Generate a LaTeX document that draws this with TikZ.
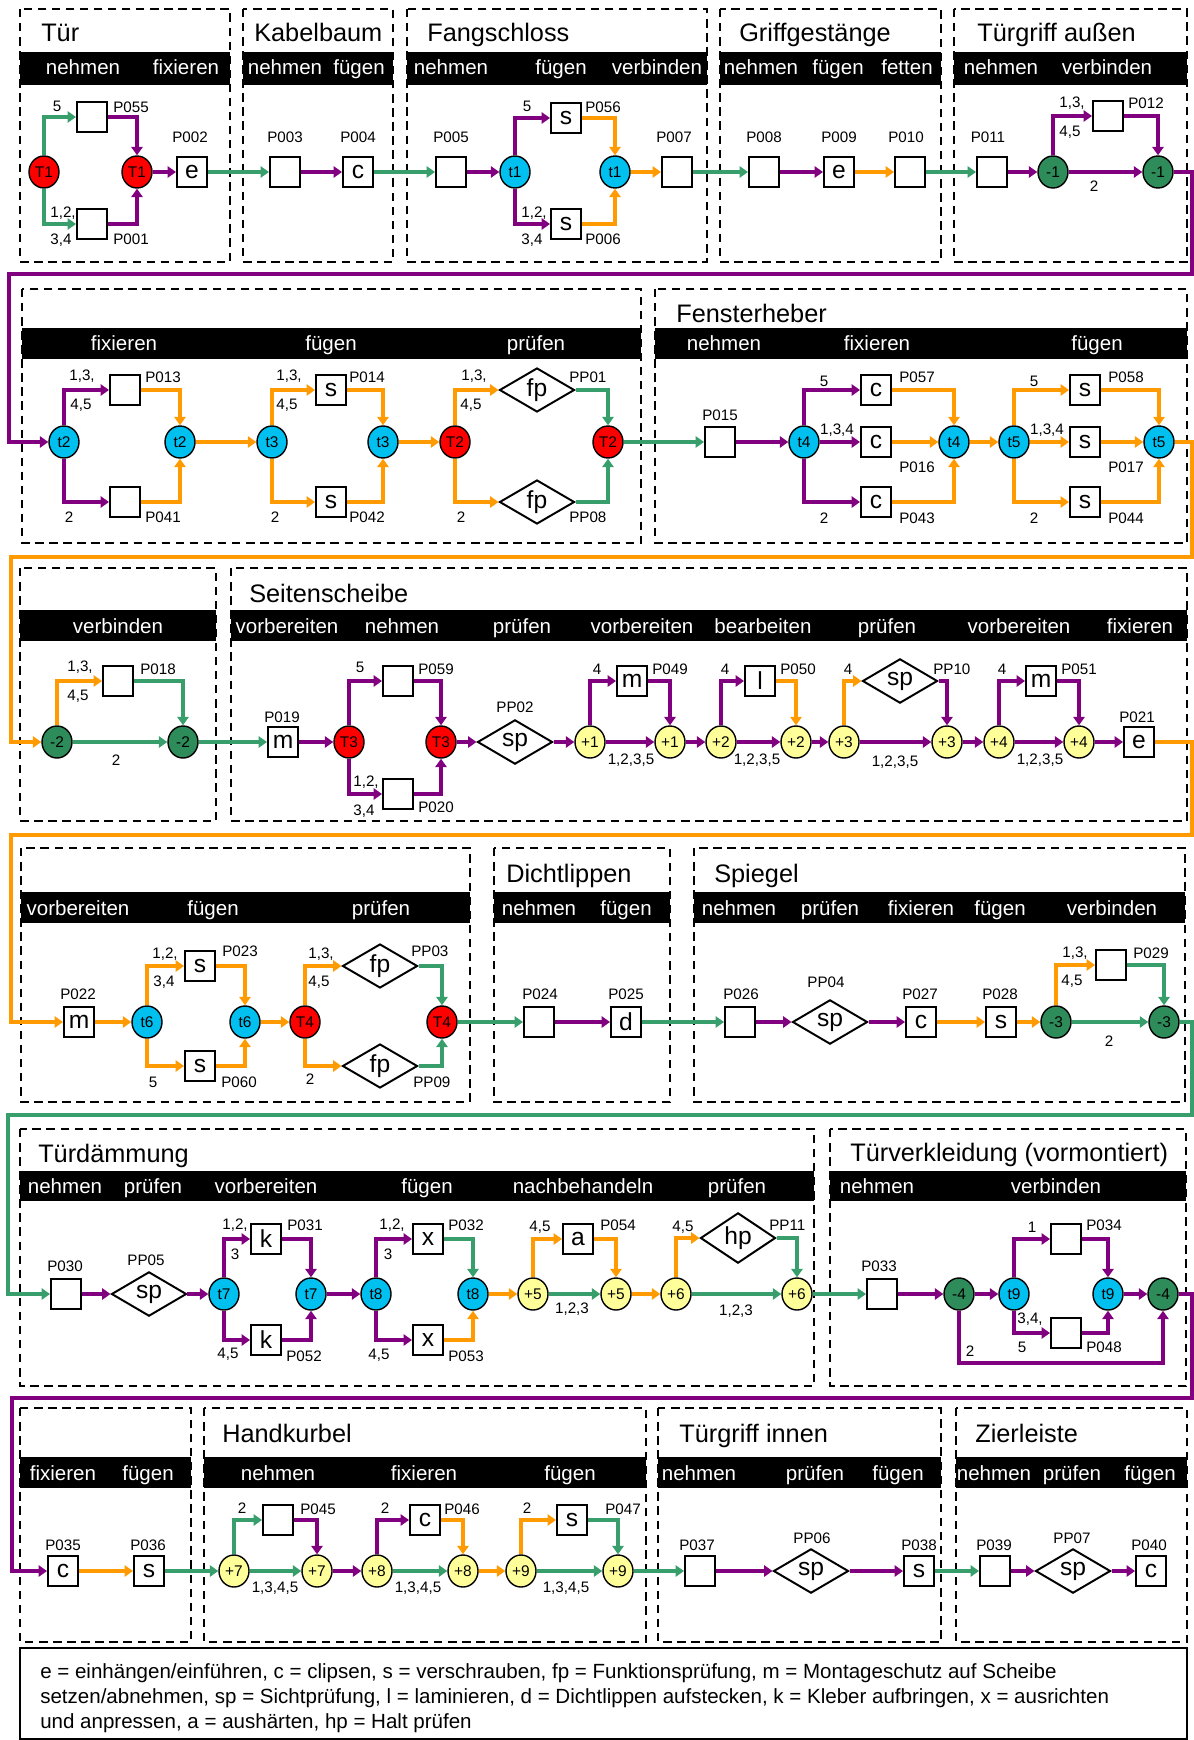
\documentclass[tikz,border=0pt]{standalone}
\usepackage{fontspec}
\setmainfont{Liberation Sans}
\usetikzlibrary{shapes.geometric,arrows.meta}
\definecolor{grn}{RGB}{56,158,108}
\definecolor{pur}{RGB}{128,0,128}
\definecolor{org}{RGB}{255,155,0}
\definecolor{tred}{RGB}{255,0,0}
\definecolor{tcyan}{RGB}{0,192,240}
\definecolor{tgreen}{RGB}{46,140,90}
\definecolor{tyel}{RGB}{255,255,153}

\begin{document}
\begin{tikzpicture}[x=0.025cm,y=-0.025cm,
    grp/.style={draw,line width=1.2pt,dash pattern=on 6pt off 4pt},
    ttl/.style={anchor=base west,inner sep=0,font=\fontsize{18}{20}\selectfont},
    hd/.style={anchor=base,inner sep=0,text=white,font=\fontsize{14.6}{16}\selectfont},
    pl/.style={draw,line width=1.4pt,fill=white,minimum size=0.75cm,inner sep=0,font=\fontsize{17.5}{18}\selectfont},
    pp/.style={draw,diamond,line width=1.4pt,fill=white,minimum width=1.875cm,minimum height=1.1cm,inner sep=0,font=\fontsize{17.5}{18}\selectfont},
    tr/.style={draw,ellipse,line width=1pt,fill=#1,minimum width=0.75cm,minimum height=0.8cm,inner sep=0,font=\fontsize{11}{12}\selectfont},
    lab/.style={inner sep=0,font=\fontsize{10.8}{12}\selectfont},
    lw/.style={lab,anchor=west},
    gr/.style={draw=grn,line width=2.6pt,-{Triangle[length=6pt,width=8pt]}},
    pu/.style={gr,draw=pur},
    og/.style={gr,draw=org}]
  \useasboundingbox (0,0) rectangle (1194,1740);

  % groups
  \foreach \a/\b/\c/\d in {20/9/230/262,243/9/393/262,407/9/707/262,720/9/941/262,954/9/1187/262,
      22/289/641/543,655/289/1187/543,20/568/216/821,231/568/1187/821,
      21/848/470/1102,494/848/670/1102,694/848/1185/1102,20/1129/814/1386,830/1129/1186/1386,
      20/1408/191/1642,204/1408/646/1642,658/1408/941/1642,956/1408/1187/1642}
    \draw[grp] (\a,\b) rectangle (\c,\d);
  \foreach \a/\b/\c/\d in {20/52/230/85,243/52/393/85,407/52/707/85,720/52/941/85,954/52/1187/85,
      22/328/641/359,655/328/1187/359,20/610/216/641,231/610/1187/641,
      21/892/470/923,494/892/670/923,694/892/1185/923,20/1171/814/1201,830/1171/1186/1201,
      20/1457/191/1488,204/1457/646/1488,658/1457/941/1488,956/1457/1187/1488}
    \fill (\a,\b) rectangle (\c,\d);

  \node[ttl] (ttl1) at (41,42) {Tür};
  \node[ttl] (ttl2) at (254,42) {Kabelbaum};
  \node[ttl] (ttl3) at (427,42) {Fangschloss};
  \node[ttl] (ttl4) at (739,42) {Griffgestänge};
  \node[ttl] (ttl5) at (977,42) {Türgriff außen};
  \node[ttl] (ttl6) at (676,323) {Fensterheber};
  \node[ttl] (ttl7) at (249,602) {Seitenscheibe};
  \node[ttl] (ttl8) at (506,882) {Dichtlippen};
  \node[ttl] (ttl9) at (714,882) {Spiegel};
  \node[ttl] (ttl10) at (38,1162) {Türdämmung};
  \node[ttl] (ttl11) at (850,1161) {Türverkleidung (vormontiert)};
  \node[ttl] (ttl12) at (222,1442) {Handkurbel};
  \node[ttl] (ttl13) at (679,1442) {Türgriff innen};
  \node[ttl] (ttl14) at (975,1442) {Zierleiste};

  \foreach \x/\t in {83/nehmen,186/fixieren,285/nehmen,359/fügen,451/nehmen,561/fügen,657/verbinden,
      761/nehmen,838/fügen,907/fetten,1001/nehmen,1107/verbinden}
    \node[hd] (h1-\x) at (\x,75) {\t};
  \foreach \x/\t in {124/fixieren,331/fügen,536/prüfen,724/nehmen,877/fixieren,1097/fügen}
    \node[hd] (h2-\x) at (\x,351) {\t};
  \foreach \x/\t in {118/verbinden,287/vorbereiten,402/nehmen,522/prüfen,642/vorbereiten,
      763/bearbeiten,887/prüfen,1019/vorbereiten,1140/fixieren}
    \node[hd] (h3-\x) at (\x,633) {\t};
  \foreach \x/\t in {78/vorbereiten,213/fügen,381/prüfen,539/nehmen,626/fügen,739/nehmen,
      830/prüfen,921/fixieren,1000/fügen,1112/verbinden}
    \node[hd] (h4-\x) at (\x,915) {\t};
  \foreach \x/\t in {65/nehmen,153/prüfen,266/vorbereiten,427/fügen,583/nachbehandeln,737/prüfen,
      877/nehmen,1056/verbinden}
    \node[hd] (h5-\x) at (\x,1193) {\t};
  \foreach \x/\t in {63/fixieren,148/fügen,278/nehmen,424/fixieren,570/fügen,699/nehmen,815/prüfen,
      898/fügen,994/nehmen,1072/prüfen,1150/fügen}
    \node[hd] (h6-\x) at (\x,1480) {\t};

  % row 1
  \node[tr=tred] (T1a) at (44,172) {T1};
  \node[pl] (p055) at (92,117) {}; \node[lw] (p055t) at (113,107) {P055};
  \node[pl] (p001) at (92,224) {}; \node[lw] (p001t) at (113,239) {P001};
  \node[tr=tred] (T1b) at (137,172) {T1};
  \node[pl] (p002) at (192,172) {e}; \node[lab] (p002t) at (190,137) {P002};
  \node[pl] (p003) at (285,172) {}; \node[lab] (p003t) at (285,137) {P003};
  \node[pl] (p004) at (358,172) {c}; \node[lab] (p004t) at (358,137) {P004};
  \node[pl] (p005) at (451,172) {}; \node[lab] (p005t) at (451,137) {P005};
  \node[tr=tcyan] (t1a) at (515,172) {t1};
  \node[pl] (p056) at (566,118) {s}; \node[lw] (p056t) at (585,107) {P056};
  \node[pl] (p006) at (566,224) {s}; \node[lw] (p006t) at (585,239) {P006};
  \node[tr=tcyan] (t1b) at (615,172) {t1};
  \node[pl] (p007) at (677,172) {}; \node[lab] (p007t) at (674,137) {P007};
  \node[pl] (p008) at (764,172) {}; \node[lab] (p008t) at (764,137) {P008};
  \node[pl] (p009) at (839,172) {e}; \node[lab] (p009t) at (839,137) {P009};
  \node[pl] (p010) at (910,172) {}; \node[lab] (p010t) at (906,137) {P010};
  \node[pl] (p011) at (992,172) {}; \node[lab] (p011t) at (988,137) {P011};
  \node[tr=tgreen] (m1a) at (1053,172) {-1};
  \node[pl] (p012) at (1108,116) {}; \node[lw] (p012t) at (1128,103) {P012};
  \node[tr=tgreen] (m1b) at (1158,172) {-1};

  % row 2
  \node[tr=tcyan] (t2a) at (64,442) {t2};
  \node[pl] (p013) at (125,390) {}; \node[lw] (p013t) at (145,377) {P013};
  \node[pl] (p041) at (125,502) {}; \node[lw] (p041t) at (145,517) {P041};
  \node[tr=tcyan] (t2b) at (180,442) {t2};
  \node[tr=tcyan] (t3a) at (272,442) {t3};
  \node[pl] (p014) at (331,390) {s}; \node[lw] (p014t) at (349,377) {P014};
  \node[pl] (p042) at (331,502) {s}; \node[lw] (p042t) at (349,517) {P042};
  \node[tr=tcyan] (t3b) at (383,442) {t3};
  \node[tr=tred] (T2a) at (455,442) {T2};
  \node[pp] (pp01) at (537,390) {fp}; \node[lw] (pp01t) at (569,377) {PP01};
  \node[pp] (pp08) at (537,502) {fp}; \node[lw] (pp08t) at (569,517) {PP08};
  \node[tr=tred] (T2b) at (608,442) {T2};
  \node[pl] (p015) at (720,442) {}; \node[lab] (p015t) at (720,415) {P015};
  \node[tr=tcyan] (t4a) at (804,442) {t4};
  \node[pl] (p057) at (876,390) {c}; \node[lw] (p057t) at (899,377) {P057};
  \node[pl] (p016) at (876,442) {c}; \node[lw] (p016t) at (899,467) {P016};
  \node[pl] (p043) at (876,502) {c}; \node[lw] (p043t) at (899,518) {P043};
  \node[tr=tcyan] (t4b) at (954,442) {t4};
  \node[tr=tcyan] (t5a) at (1014,442) {t5};
  \node[pl] (p058) at (1085,390) {s}; \node[lw] (p058t) at (1108,377) {P058};
  \node[pl] (p017) at (1085,442) {s}; \node[lw] (p017t) at (1108,467) {P017};
  \node[pl] (p044) at (1085,502) {s}; \node[lw] (p044t) at (1108,518) {P044};
  \node[tr=tcyan] (t5b) at (1159,442) {t5};

  % row 3
  \node[tr=tgreen] (m2a) at (57,742) {-2};
  \node[pl] (p018) at (118,681) {}; \node[lw] (p018t) at (140,669) {P018};
  \node[tr=tgreen] (m2b) at (183,742) {-2};
  \node[pl] (p019) at (283,742) {m}; \node[lab] (p019t) at (282,717) {P019};
  \node[tr=tred] (T3a) at (349,742) {T3};
  \node[pl] (p059) at (398,681) {}; \node[lw] (p059t) at (418,669) {P059};
  \node[pl] (p020) at (398,794) {}; \node[lw] (p020t) at (418,807) {P020};
  \node[tr=tred] (T3b) at (441,742) {T3};
  \node[pp] (pp02) at (515,742) {sp}; \node[lab] (pp02t) at (515,707) {PP02};
  \node[tr=tyel] (p1a) at (590,742) {+1};
  \node[pl] (p049) at (632,681) {m}; \node[lw] (p049t) at (652,669) {P049};
  \node[tr=tyel] (p1b) at (670,742) {+1};
  \node[tr=tyel] (p2a) at (721,742) {+2};
  \node[pl] (p050) at (760,681) {l}; \node[lw] (p050t) at (780,669) {P050};
  \node[tr=tyel] (p2b) at (796,742) {+2};
  \node[tr=tyel] (p3a) at (844,742) {+3};
  \node[pp] (pp10) at (900,681) {sp}; \node[lw] (pp10t) at (933,669) {PP10};
  \node[tr=tyel] (p3b) at (947,742) {+3};
  \node[tr=tyel] (p4a) at (999,742) {+4};
  \node[pl] (p051) at (1041,681) {m}; \node[lw] (p051t) at (1061,669) {P051};
  \node[tr=tyel] (p4b) at (1079,742) {+4};
  \node[pl] (p021) at (1139,742) {e}; \node[lab] (p021t) at (1137,717) {P021};

  % row 4
  \node[pl] (p022) at (79,1022) {m}; \node[lab] (p022t) at (78,994) {P022};
  \node[tr=tcyan] (t6a) at (147,1022) {t6};
  \node[pl] (p023) at (200,966) {s}; \node[lw] (p023t) at (222,951) {P023};
  \node[pl] (p060) at (200,1066) {s}; \node[lw] (p060t) at (221,1082) {P060};
  \node[tr=tcyan] (t6b) at (245,1022) {t6};
  \node[tr=tred] (T4a) at (305,1022) {T4};
  \node[pp] (pp03) at (380,966) {fp}; \node[lw] (pp03t) at (411,951) {PP03};
  \node[pp] (pp09) at (380,1066) {fp}; \node[lw] (pp09t) at (413,1082) {PP09};
  \node[tr=tred] (T4b) at (442,1022) {T4};
  \node[pl] (p024) at (539,1022) {}; \node[lab] (p024t) at (540,994) {P024};
  \node[pl] (p025) at (626,1022) {d}; \node[lab] (p025t) at (626,994) {P025};
  \node[pl] (p026) at (740,1022) {}; \node[lab] (p026t) at (741,994) {P026};
  \node[pp] (pp04) at (830,1022) {sp}; \node[lab] (pp04t) at (826,982) {PP04};
  \node[pl] (p027) at (921,1022) {c}; \node[lab] (p027t) at (920,994) {P027};
  \node[pl] (p028) at (1001,1022) {s}; \node[lab] (p028t) at (1000,994) {P028};
  \node[tr=tgreen] (m3a) at (1056,1022) {-3};
  \node[pl] (p029) at (1111,965) {}; \node[lw] (p029t) at (1133,953) {P029};
  \node[tr=tgreen] (m3b) at (1164,1022) {-3};

  % row 5
  \node[pl] (p030) at (66,1294) {}; \node[lab] (p030t) at (65,1266) {P030};
  \node[pp] (pp05) at (149,1294) {sp}; \node[lab] (pp05t) at (146,1260) {PP05};
  \node[tr=tcyan] (t7a) at (224,1294) {t7};
  \node[pl] (p031) at (266,1239) {k}; \node[lw] (p031t) at (287,1225) {P031};
  \node[pl] (p052) at (266,1340) {k}; \node[lw] (p052t) at (286,1356) {P052};
  \node[tr=tcyan] (t7b) at (311,1294) {t7};
  \node[tr=tcyan] (t8a) at (376,1294) {t8};
  \node[pl] (p032) at (428,1239) {x}; \node[lw] (p032t) at (448,1225) {P032};
  \node[pl] (p053) at (428,1340) {x}; \node[lw] (p053t) at (448,1356) {P053};
  \node[tr=tcyan] (t8b) at (473,1294) {t8};
  \node[tr=tyel] (p5a) at (533,1294) {+5};
  \node[pl] (p054) at (578,1239) {a}; \node[lw] (p054t) at (600,1225) {P054};
  \node[tr=tyel] (p5b) at (616,1294) {+5};
  \node[tr=tyel] (p6a) at (676,1294) {+6};
  \node[pp] (pp11) at (738,1238) {hp}; \node[lw] (pp11t) at (769,1225) {PP11};
  \node[tr=tyel] (p6b) at (797,1294) {+6};
  \node[pl] (p033) at (882,1294) {}; \node[lab] (p033t) at (879,1266) {P033};
  \node[tr=tgreen] (m4a) at (959,1294) {-4};
  \node[tr=tcyan] (t9a) at (1014,1294) {t9};
  \node[pl] (p034) at (1066,1239) {}; \node[lw] (p034t) at (1086,1225) {P034};
  \node[pl] (p048) at (1066,1333) {}; \node[lw] (p048t) at (1086,1347) {P048};
  \node[tr=tcyan] (t9b) at (1108,1294) {t9};
  \node[tr=tgreen] (m4b) at (1163,1294) {-4};

  % row 6
  \node[pl] (p035) at (63,1571) {c}; \node[lab] (p035t) at (63,1545) {P035};
  \node[pl] (p036) at (149,1571) {s}; \node[lab] (p036t) at (148,1545) {P036};
  \node[tr=tyel] (p7a) at (234,1571) {+7};
  \node[pl] (p045) at (278,1520) {}; \node[lw] (p045t) at (300,1509) {P045};
  \node[tr=tyel] (p7b) at (317,1571) {+7};
  \node[tr=tyel] (p8a) at (377,1571) {+8};
  \node[pl] (p046) at (425,1520) {c}; \node[lw] (p046t) at (444,1509) {P046};
  \node[tr=tyel] (p8b) at (463,1571) {+8};
  \node[tr=tyel] (p9a) at (521,1571) {+9};
  \node[pl] (p047) at (572,1520) {s}; \node[lw] (p047t) at (605,1509) {P047};
  \node[tr=tyel] (p9b) at (618,1571) {+9};
  \node[pl] (p037) at (700,1571) {}; \node[lab] (p037t) at (697,1545) {P037};
  \node[pp] (pp06) at (811,1571) {sp}; \node[lab] (pp06t) at (812,1538) {PP06};
  \node[pl] (p038) at (919,1571) {s}; \node[lab] (p038t) at (919,1545) {P038};
  \node[pl] (p039) at (995,1571) {}; \node[lab] (p039t) at (994,1545) {P039};
  \node[pp] (pp07) at (1073,1571) {sp}; \node[lab] (pp07t) at (1072,1538) {PP07};
  \node[pl] (p040) at (1151,1571) {c}; \node[lab] (p040t) at (1149,1545) {P040};

  \draw[line width=1pt] (20,1648) rectangle (1187,1739);
  \node[anchor=north west,inner sep=0,align=left,font=\fontsize{14.6}{18}\selectfont] (key) at (40,1663)
    {e = einhängen/einführen, c = clipsen, s = verschrauben, fp = Funktionsprüfung, m = Montageschutz auf Scheibe\\
     setzen/abnehmen, sp = Sichtprüfung, l = laminieren, d = Dichtlippen aufstecken, k = Kleber aufbringen, x = ausrichten\\
     und anpressen, a = aushärten, hp = Halt prüfen};

  % arcs row 1
  \draw[gr] (T1a) |- (p055) node[lab] at (57,106) {5};
  \draw[gr] (T1a) |- (p001) node[lab] at (63,213) {1,2,} node[lab] at (61,240) {3,4};
  \draw[pu] (p055) -| (T1b);
  \draw[pu] (p001) -| (T1b);
  \draw[pu] (T1b) -- (p002);
  \draw[gr] (p002) -- (p003);
  \draw[pu] (p003) -- (p004);
  \draw[gr] (p004) -- (p005);
  \draw[pu] (p005) -- (t1a);
  \draw[pu] (t1a) |- (p056) node[lab] at (527,106) {5};
  \draw[pu] (t1a) |- (p006) node[lab] at (534,213) {1,2,} node[lab] at (532,240) {3,4};
  \draw[og] (p056) -| (t1b);
  \draw[og] (p006) -| (t1b);
  \draw[og] (t1b) -- (p007);
  \draw[gr] (p007) -- (p008);
  \draw[pu] (p008) -- (p009);
  \draw[og] (p009) -- (p010);
  \draw[gr] (p010) -- (p011);
  \draw[pu] (p011) -- (m1a);
  \draw[pu] (m1a) |- (p012) node[lab] at (1072,103) {1,3,} node[lab] at (1070,132) {4,5};
  \draw[pu] (p012) -| (m1b);
  \draw[pu] (m1a) -- (m1b) node[lab] at (1094,186) {2};
  \draw[pu] (m1b) -| (1192,274) -- (9,274) |- (t2a);

  % arcs row 2
  \draw[pu] (t2a) |- (p013) node[lab] at (82,376) {1,3,} node[lab] at (81,405) {4,5};
  \draw[pu] (t2a) |- (p041) node[lab] at (69,517) {2};
  \draw[og] (p013) -| (t2b);
  \draw[og] (p041) -| (t2b);
  \draw[og] (t2b) -- (t3a);
  \draw[og] (t3a) |- (p014) node[lab] at (289,376) {1,3,} node[lab] at (287,405) {4,5};
  \draw[og] (t3a) |- (p042) node[lab] at (275,517) {2};
  \draw[og] (p014) -| (t3b);
  \draw[og] (p042) -| (t3b);
  \draw[og] (t3b) -- (T2a);
  \draw[og] (T2a) |- (pp01) node[lab] at (474,376) {1,3,} node[lab] at (471,405) {4,5};
  \draw[og] (T2a) |- (pp08) node[lab] at (461,517) {2};
  \draw[gr] (pp01) -| (T2b);
  \draw[gr] (pp08) -| (T2b);
  \draw[gr] (T2b) -- (p015);
  \draw[pu] (p015) -- (t4a);
  \draw[pu] (t4a) |- (p057) node[lab] at (824,381) {5};
  \draw[pu] (t4a) -- (p016) node[lab] at (837,430) {1,3,4};
  \draw[pu] (t4a) |- (p043) node[lab] at (824,518) {2};
  \draw[og] (p057) -| (t4b);
  \draw[og] (p016) -- (t4b);
  \draw[og] (p043) -| (t4b);
  \draw[og] (t4b) -- (t5a);
  \draw[og] (t5a) |- (p058) node[lab] at (1034,381) {5};
  \draw[og] (t5a) -- (p017) node[lab] at (1047,430) {1,3,4};
  \draw[og] (t5a) |- (p044) node[lab] at (1034,518) {2};
  \draw[og] (p058) -| (t5b);
  \draw[og] (p017) -- (t5b);
  \draw[og] (p044) -| (t5b);
  \draw[og] (t5b) -| (1192,557) -- (11,557) |- (m2a);

  % arcs row 3
  \draw[og] (m2a) |- (p018) node[lab] at (80,667) {1,3,} node[lab] at (78,696) {4,5};
  \draw[gr] (p018) -| (m2b);
  \draw[gr] (m2a) -- (m2b) node[lab] at (116,760) {2};
  \draw[gr] (m2b) -- (p019);
  \draw[pu] (p019) -- (T3a);
  \draw[pu] (T3a) |- (p059) node[lab] at (360,667) {5};
  \draw[pu] (T3a) |- (p020) node[lab] at (366,782) {1,2,} node[lab] at (364,811) {3,4};
  \draw[pu] (p059) -| (T3b);
  \draw[pu] (p020) -| (T3b);
  \draw[pu] (T3b) -- (pp02);
  \draw[pu] (pp02) -- (p1a);
  \draw[pu] (p1a) |- (p049) node[lab] at (597,669) {4};
  \draw[pu] (p049) -| (p1b);
  \draw[pu] (p1a) -- (p1b) node[lab] at (631,760) {1,2,3,5};
  \draw[pu] (p1b) -- (p2a);
  \draw[pu] (p2a) |- (p050) node[lab] at (725,669) {4};
  \draw[og] (p050) -| (p2b);
  \draw[pu] (p2a) -- (p2b) node[lab] at (757,760) {1,2,3,5};
  \draw[pu] (p2b) -- (p3a);
  \draw[og] (p3a) |- (pp10) node[lab] at (848,669) {4};
  \draw[pu] (pp10) -| (p3b);
  \draw[pu] (p3a) -- (p3b) node[lab] at (895,762) {1,2,3,5};
  \draw[pu] (p3b) -- (p4a);
  \draw[pu] (p4a) |- (p051) node[lab] at (1002,669) {4};
  \draw[pu] (p051) -| (p4b);
  \draw[pu] (p4a) -- (p4b) node[lab] at (1040,760) {1,2,3,5};
  \draw[pu] (p4b) -- (p021);
  \draw[og] (p021) -| (1192,835) -- (11,835) |- (p022);

  % arcs row 4
  \draw[og] (p022) -- (t6a);
  \draw[og] (t6a) |- (p023) node[lab] at (165,954) {1,2,} node[lab] at (164,982) {3,4};
  \draw[og] (t6a) |- (p060) node[lab] at (153,1082) {5};
  \draw[og] (p023) -| (t6b);
  \draw[og] (p060) -| (t6b);
  \draw[og] (t6b) -- (T4a);
  \draw[og] (T4a) |- (pp03) node[lab] at (321,954) {1,3,} node[lab] at (319,982) {4,5};
  \draw[og] (T4a) |- (pp09) node[lab] at (310,1079) {2};
  \draw[gr] (pp03) -| (T4b);
  \draw[gr] (pp09) -| (T4b);
  \draw[gr] (T4b) -- (p024);
  \draw[pu] (p024) -- (p025);
  \draw[gr] (p025) -- (p026);
  \draw[pu] (p026) -- (pp04);
  \draw[pu] (pp04) -- (p027);
  \draw[og] (p027) -- (p028);
  \draw[og] (p028) -- (m3a);
  \draw[og] (m3a) |- (p029) node[lab] at (1075,953) {1,3,} node[lab] at (1072,981) {4,5};
  \draw[gr] (p029) -| (m3b);
  \draw[gr] (m3a) -- (m3b) node[lab] at (1109,1041) {2};
  \draw[gr] (m3b) -| (1192,1115) -- (8,1115) |- (p030);

  % arcs row 5
  \draw[pu] (p030) -- (pp05);
  \draw[pu] (pp05) -- (t7a);
  \draw[pu] (t7a) |- (p031) node[lab] at (235,1225) {1,2,} node[lab] at (235,1254) {3};
  \draw[pu] (t7a) |- (p052) node[lab] at (228,1354) {4,5};
  \draw[pu] (p031) -| (t7b);
  \draw[pu] (p052) -| (t7b);
  \draw[pu] (t7b) -- (t8a);
  \draw[pu] (t8a) |- (p032) node[lab] at (392,1225) {1,2,} node[lab] at (388,1254) {3};
  \draw[pu] (t8a) |- (p053) node[lab] at (379,1355) {4,5};
  \draw[gr] (p032) -| (t8b);
  \draw[og] (p053) -| (t8b);
  \draw[og] (t8b) -- (p5a);
  \draw[og] (p5a) |- (p054) node[lab] at (540,1227) {4,5};
  \draw[og] (p054) -| (p5b);
  \draw[gr] (p5a) -- (p5b) node[lab] at (572,1309) {1,2,3};
  \draw[og] (p5b) -- (p6a);
  \draw[og] (p6a) |- (pp11) node[lab] at (683,1227) {4,5};
  \draw[gr] (pp11) -| (p6b);
  \draw[gr] (p6a) -- (p6b) node[lab] at (736,1311) {1,2,3};
  \draw[gr] (p6b) -- (p033);
  \draw[pu] (p033) -- (m4a);
  \draw[pu] (m4a) -- (t9a);
  \draw[pu] (t9a) |- (p034) node[lab] at (1032,1227) {1};
  \draw[pu] (t9a) |- (p048) node[lab] at (1030,1319) {3,4,} node[lab] at (1022,1347) {5};
  \draw[pu] (p034) -| (t9b);
  \draw[pu] (p048) -| (t9b);
  \draw[pu] (t9b) -- (m4b);
  \draw[pu] (m4a.south) -- (959,1363) -| (m4b.south) node[lab] at (970,1351) {2};
  \draw[pu] (m4b) -| (1192,1398) -- (12,1398) |- (p035);

  % arcs row 6
  \draw[og] (p035) -- (p036);
  \draw[gr] (p036) -- (p7a);
  \draw[gr] (p7a) |- (p045) node[lab] at (242,1508) {2};
  \draw[pu] (p045) -| (p7b);
  \draw[gr] (p7a) -- (p7b) node[lab] at (275,1588) {1,3,4,5};
  \draw[pu] (p7b) -- (p8a);
  \draw[pu] (p8a) |- (p046) node[lab] at (385,1508) {2};
  \draw[og] (p046) -| (p8b);
  \draw[gr] (p8a) -- (p8b) node[lab] at (418,1588) {1,3,4,5};
  \draw[og] (p8b) -- (p9a);
  \draw[og] (p9a) |- (p047) node[lab] at (527,1508) {2};
  \draw[gr] (p047) -| (p9b);
  \draw[gr] (p9a) -- (p9b) node[lab] at (566,1588) {1,3,4,5};
  \draw[gr] (p9b) -- (p037);
  \draw[pu] (p037) -- (pp06);
  \draw[pu] (pp06) -- (p038);
  \draw[gr] (p038) -- (p039);
  \draw[pu] (p039) -- (pp07);
  \draw[pu] (pp07) -- (p040);
\end{tikzpicture}
\end{document}
